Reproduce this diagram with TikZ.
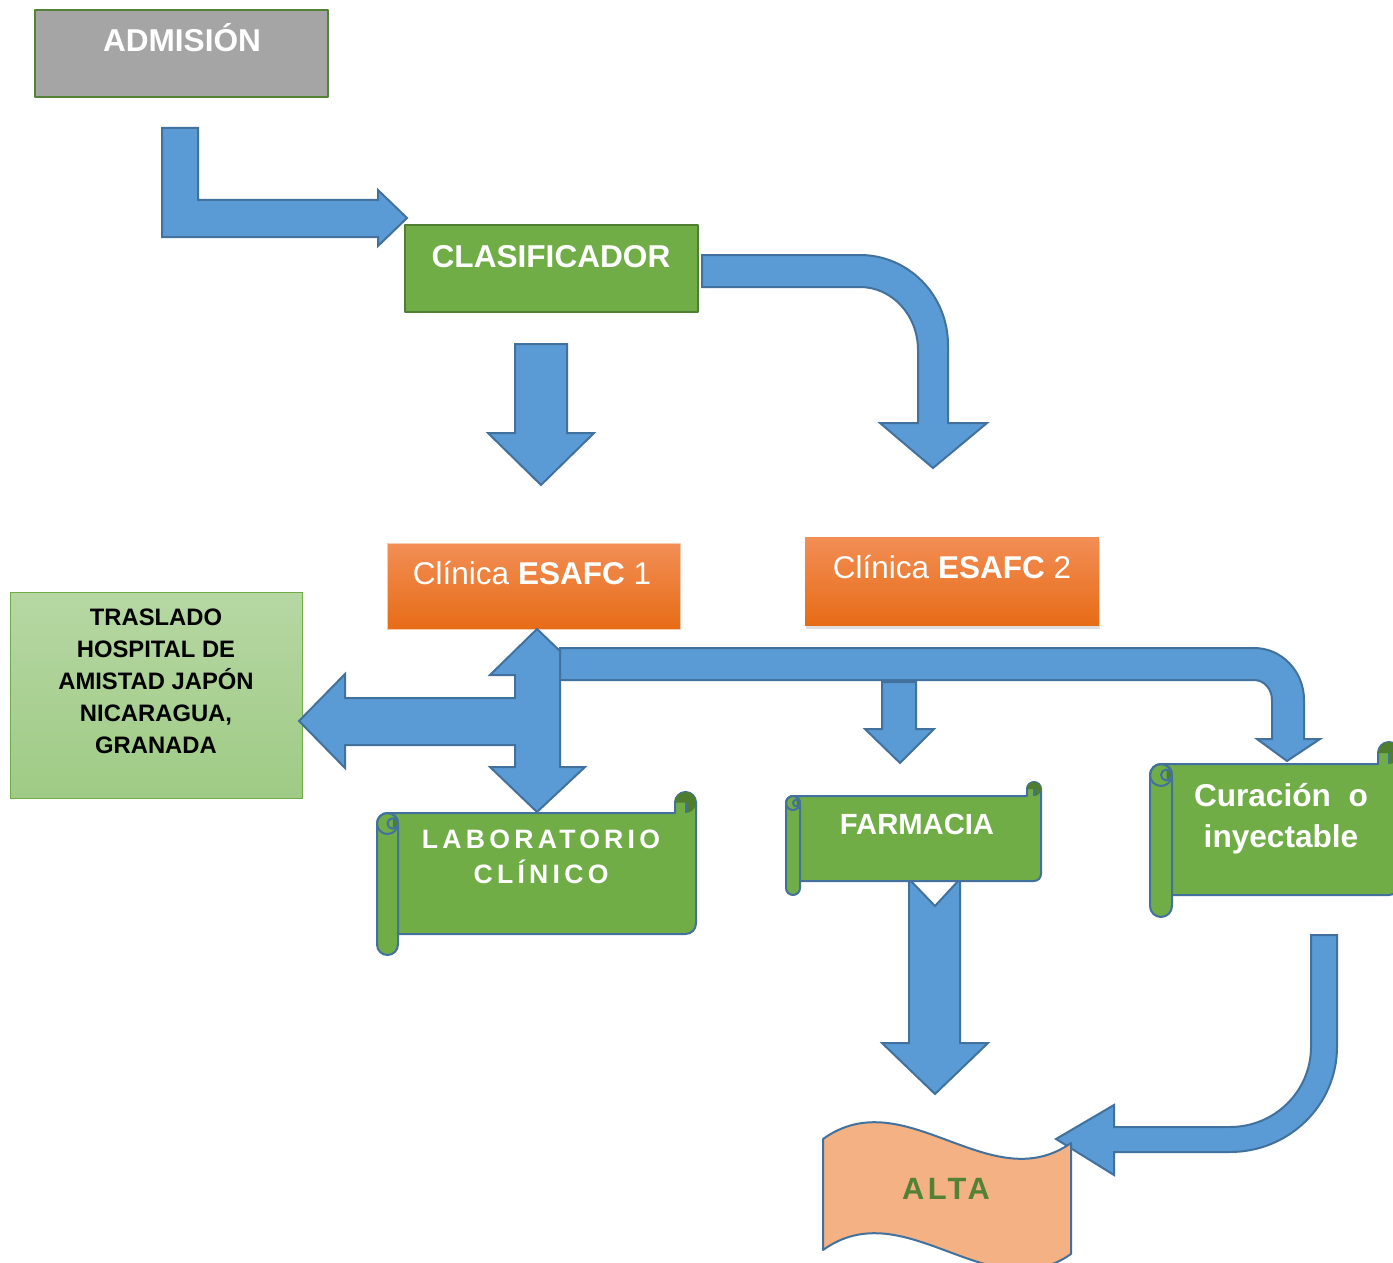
\documentclass[tikz,border=0pt]{standalone}
\usepackage{fontspec}
\setmainfont{Liberation Sans}
\newfontfamily\spacedfont[LetterSpace=16]{Liberation Sans}
\newfontfamily\altafont[LetterSpace=11]{Liberation Sans}
\usepackage{tikz}
\usetikzlibrary{shadows}
\definecolor{arrowblue}{HTML}{5B9BD5}
\definecolor{arrowline}{HTML}{41719C}
\definecolor{boxgreen}{HTML}{70AD47}
\definecolor{clasline}{HTML}{507E32}
\definecolor{admgray}{HTML}{A5A5A5}
\definecolor{admline}{HTML}{538135}
\definecolor{orangetop}{HTML}{F28E55}
\definecolor{orangebot}{HTML}{E76C17}
\definecolor{orangeline}{HTML}{F8CBAD}
\definecolor{trastop}{HTML}{B6D7A3}
\definecolor{trasbot}{HTML}{9FCB85}
\definecolor{altafill}{HTML}{F4B183}
\definecolor{altatext}{HTML}{538135}
\definecolor{scrolldark}{HTML}{4E7D30}
% horizontal scroll: left x, top y, right x, bottom y, curl radius
\newcommand{\scrollbox}[5]{%
  \filldraw[scroll] ({#1+#5},{#2+2*#5}) -- ({#3-2*#5},{#2+2*#5}) -- ({#3-2*#5},{#2+#5})
    arc (180:360:#5) -- (#3,{#4-3*#5}) arc (0:90:#5) -- ({#1+#5},{#4-2*#5}) -- cycle;
  \fill[scrolldark] ({#3-2*#5},{#2+#5}) arc (180:360:#5) arc (0:90:#5) -- ({#3-#5},{#2+#5}) -- cycle;
  \draw[scroll,fill=none] ({#3-#5},{#2+2*#5}) -- ({#3-#5},{#2+#5});
  \filldraw[scroll] (#1,{#2+3*#5}) -- (#1,{#4-#5}) arc (180:0:#5) -- ({#1+2*#5},{#2+3*#5})
    arc (0:-180:#5) -- cycle;
  \draw[scroll,fill=none] ({#1+#5},{#2+3*#5}) circle (#5);
  \fill[scrolldark] ({#1+1.5*#5},{#2+2.5*#5}) arc (-90:90:{0.5*#5}) -- cycle;
  \draw[scroll,fill=none] ({#1+1.5*#5},{#2+3*#5}) circle ({0.5*#5});
}

\begin{document}
\begin{tikzpicture}[x=0.5pt,y=-0.5pt,line join=round,
    blk/.style={fill=arrowblue,draw=arrowline,line width=1pt,line join=miter},
    box/.style={rectangle,inner sep=0pt,line width=1pt},
    lbl/.style={anchor=base,inner sep=0pt,text=white,font=\bfseries\fontsize{15.8}{19}\selectfont},
    scroll/.style={fill=boxgreen,draw=arrowline,line width=1pt}]
  \useasboundingbox (0,0) rectangle (1393,1263);
  \clip (0,0) rectangle (1393,1263);

  % plain boxes
  \node[box,fill=admgray,draw=admline,line width=1.2pt,minimum width=146.5pt,minimum height=43.5pt] (adm) at (181.5,53.5) {};
  \node[lbl] (adm-t) at (182,52) {ADMISIÓN};
  \node[box,fill=boxgreen,draw=clasline,minimum width=146.5pt,minimum height=43.5pt] (clas) at (551.5,268.5) {};
  \node[lbl] (clas-t) at (551,267) {CLASIFICADOR};
  \node[box,top color=orangetop,bottom color=orangebot,draw=orangeline,line width=0.5pt,
        minimum width=146.5pt,minimum height=43pt] (cli1) at (533.5,586) {};
  \node[lbl,font=\fontsize{15.75}{19}\selectfont] (cli1-t) at (532,584) {Clínica \textbf{ESAFC} 1};
  \node[box,top color=orangetop,bottom color=orangebot,
        drop shadow={shadow xshift=0.6pt,shadow yshift=-2pt,opacity=0.25},
        minimum width=147pt,minimum height=44pt] (cli2) at (952,581) {};
  \node[lbl,font=\fontsize{15.75}{19}\selectfont] (cli2-t) at (952,578) {Clínica \textbf{ESAFC} 2};
  \node[box,top color=trastop,bottom color=trasbot,draw=boxgreen,line width=0.5pt,
        minimum width=146pt,minimum height=103pt] (tras) at (156,695) {};
  \node[inner sep=0pt,align=center,font=\bfseries\fontsize{11.9}{16}\selectfont] (tras-t) at (156,681)
    {TRASLADO\\HOSPITAL DE\\AMISTAD JAPÓN\\NICARAGUA,\\GRANADA};

  % block arrows
  \filldraw[blk] (162,128) -- (198,128) -- (198,200) -- (378,200) -- (378,190) -- (407,218)
    -- (378,246) -- (378,237) -- (162,237) -- cycle;
  \filldraw[blk] (515,344) -- (567,344) -- (567,433) -- (594,433) -- (541,485) -- (488,433) -- (515,433) -- cycle;
  \filldraw[blk] (702,255) -- (860,255) arc (270:360:88 and 90) -- (948,423) -- (987,423) -- (933,468)
    -- (880,423) -- (918,423) -- (918,350) arc (0:-90:58 and 63) -- (702,287) -- cycle;
  % up/down arrow with branch to the left
  \filldraw[blk] (537,629) -- (585,675) -- (560,675) -- (560,767) -- (585,767) -- (537,812) -- (490,767)
    -- (515,767) -- (515,745) -- (345,745) -- (345,768) -- (299,721) -- (345,674) -- (345,698)
    -- (515,698) -- (515,675) -- (490,675) -- cycle;
  \filldraw[blk] (560,648) -- (1254,648) arc (270:360:50 and 52) -- (1304,739) -- (1320,739) -- (1287,761)
    -- (1257,739) -- (1272,739) -- (1272,700) arc (0:-90:18 and 20) -- (560,680) -- cycle;
  \filldraw[blk] (882,682) -- (916,682) -- (916,729) -- (934,729) -- (900,763) -- (865,729) -- (882,729) -- cycle;
  \filldraw[blk] (909,879) -- (935,906) -- (960,879) -- (960,1043) -- (988,1043) -- (935,1094)
    -- (882,1043) -- (909,1043) -- cycle;
  \filldraw[blk] (1311,935) -- (1337,935) -- (1337,1047) arc (0:90:107 and 105) -- (1114,1152) -- (1114,1175)
    -- (1056,1139) -- (1114,1105) -- (1114,1127) -- (1230,1127) arc (90:0:81 and 80) -- cycle;

  % scrolls
  \foreach \xl/\yt/\xr/\yb/\r in {377/792/696/955/10.5, 786/782/1041/895/7, 1150/742/1400/917/11}
    {\scrollbox{\xl}{\yt}{\xr}{\yb}{\r}}
  \node[lbl,font=\spacedfont\bfseries\fontsize{13.3}{17}\selectfont] (lab-t1) at (541,848) {LABORATORIO};
  \node[lbl,font=\spacedfont\bfseries\fontsize{13.3}{17}\selectfont] (lab-t2) at (541,883) {CLÍNICO};
  \node[lbl,font=\bfseries\fontsize{14.6}{18}\selectfont] (farm-t) at (917,834) {FARMACIA};
  \node[lbl] (cur-t1) at (1281,806) {\makebox[87pt]{Curación\hfill o}};
  \node[lbl] (cur-t2) at (1281,847) {inyectable};

  % wave
  \filldraw[fill=altafill,draw=arrowline,line width=1pt] (823,1139) .. controls (905,1080) and (990,1200) .. (1071,1143)
    -- (1071,1254) .. controls (990,1311) and (905,1191) .. (823,1250) -- cycle;
  \node[lbl,text=altatext,font=\altafont\bfseries\fontsize{15.4}{19}\selectfont] (alta-t) at (946,1199) {ALTA};
\end{tikzpicture}
\end{document}
